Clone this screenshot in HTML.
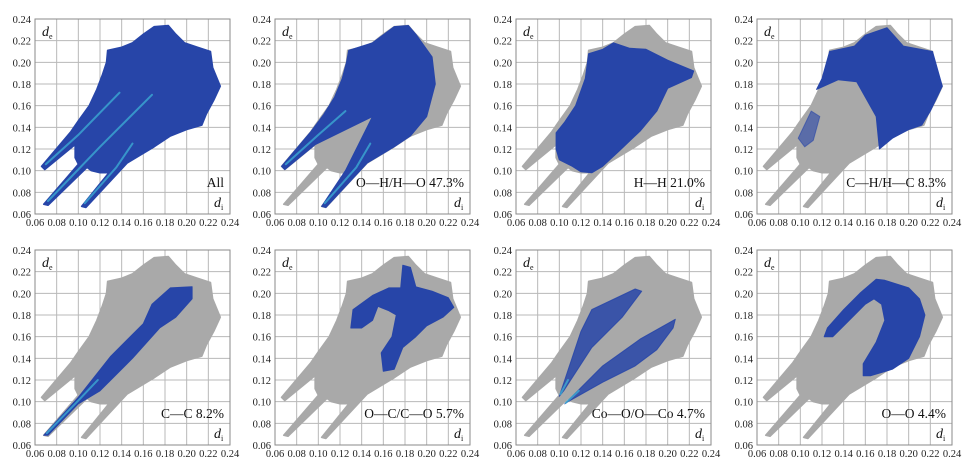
<!DOCTYPE html>
<html><head><meta charset="utf-8"><style>
body{margin:0;background:#fff;width:972px;height:476px;overflow:hidden}
svg{display:block}
text{font-family:"Liberation Serif",serif}
</style></head><body>
<svg id="fig" width="972" height="476" viewBox="0 0 972 476"></svg>
<script>
// ---- data (di, de) ----
const ticks=[0.06,0.08,0.10,0.12,0.14,0.16,0.18,0.20,0.22,0.24];
const tickLabels=["0.06","0.08","0.10","0.12","0.14","0.16","0.18","0.20","0.22","0.24"];
const panelLabels=["All","O\u2014H/H\u2014O 47.3%","H\u2014H 21.0%","C\u2014H/H\u2014C 8.3%","C\u2014C 8.2%","O\u2014C/C\u2014O 5.7%","Co\u2014O/O\u2014Co 4.7%","O\u2014O 4.4%"];
const envelope=[[0.066,0.104],[0.093,0.136],[0.100,0.146],[0.110,0.160],[0.117,0.175],[0.122,0.188],[0.126,0.200],[0.127,0.211],[0.140,0.214],[0.150,0.218],[0.160,0.226],[0.170,0.233],[0.183,0.234],[0.190,0.226],[0.198,0.218],[0.210,0.214],[0.222,0.210],[0.224,0.195],[0.231,0.178],[0.225,0.165],[0.218,0.152],[0.214,0.142],[0.200,0.138],[0.185,0.132],[0.170,0.122],[0.155,0.113],[0.145,0.107],[0.107,0.066],[0.103,0.067],[0.128,0.098],[0.120,0.098],[0.112,0.100],[0.108,0.103],[0.072,0.068],[0.068,0.069],[0.100,0.106],[0.097,0.112],[0.097,0.124],[0.069,0.101]];
const ohRegion=[[0.066,0.104],[0.093,0.136],[0.105,0.152],[0.115,0.168],[0.122,0.185],[0.126,0.200],[0.128,0.211],[0.150,0.218],[0.170,0.233],[0.183,0.234],[0.190,0.226],[0.205,0.205],[0.208,0.180],[0.200,0.150],[0.185,0.132],[0.170,0.122],[0.145,0.107],[0.107,0.066],[0.103,0.067],[0.125,0.100],[0.150,0.150],[0.097,0.124],[0.069,0.101]];
const hhRegion=[[0.097,0.135],[0.105,0.145],[0.115,0.160],[0.124,0.185],[0.127,0.208],[0.140,0.212],[0.150,0.218],[0.165,0.213],[0.180,0.212],[0.200,0.202],[0.224,0.192],[0.222,0.186],[0.200,0.176],[0.190,0.155],[0.175,0.137],[0.155,0.118],[0.140,0.104],[0.130,0.098],[0.120,0.099],[0.112,0.104],[0.100,0.110],[0.097,0.120]];
const chRegion=[[0.115,0.175],[0.120,0.185],[0.127,0.210],[0.150,0.215],[0.160,0.225],[0.180,0.232],[0.195,0.215],[0.222,0.210],[0.231,0.178],[0.220,0.155],[0.212,0.142],[0.200,0.138],[0.185,0.130],[0.173,0.120],[0.170,0.150],[0.152,0.182],[0.135,0.184]];
const chRegion2=[[0.098,0.130],[0.110,0.155],[0.118,0.150],[0.112,0.128],[0.104,0.122]];
const ccRegion=[[0.068,0.069],[0.100,0.104],[0.130,0.142],[0.160,0.172],[0.168,0.190],[0.185,0.205],[0.205,0.206],[0.205,0.195],[0.190,0.178],[0.175,0.168],[0.150,0.140],[0.120,0.110],[0.100,0.098],[0.072,0.069]];
const ocRegion=[[0.130,0.168],[0.132,0.185],[0.150,0.198],[0.165,0.205],[0.176,0.205],[0.178,0.226],[0.185,0.224],[0.190,0.206],[0.205,0.202],[0.220,0.196],[0.225,0.187],[0.215,0.178],[0.200,0.170],[0.190,0.160],[0.178,0.150],[0.170,0.130],[0.160,0.128],[0.158,0.145],[0.168,0.160],[0.172,0.180],[0.165,0.184],[0.155,0.188],[0.150,0.175],[0.140,0.168]];
const coRegionA=[[0.100,0.105],[0.120,0.165],[0.130,0.185],[0.170,0.204],[0.176,0.202],[0.158,0.178],[0.130,0.150],[0.104,0.110]];
const coRegionB=[[0.105,0.098],[0.140,0.133],[0.175,0.158],[0.207,0.176],[0.205,0.168],[0.190,0.148],[0.170,0.133],[0.140,0.118],[0.108,0.100]];
const ooRegion=[[0.122,0.160],[0.125,0.168],[0.140,0.185],[0.155,0.200],[0.170,0.213],[0.178,0.212],[0.200,0.205],[0.210,0.195],[0.215,0.180],[0.210,0.160],[0.200,0.140],[0.185,0.130],[0.165,0.124],[0.158,0.124],[0.158,0.135],[0.170,0.155],[0.178,0.175],[0.175,0.190],[0.168,0.195],[0.160,0.190],[0.150,0.180],[0.138,0.168],[0.130,0.160]];
const streaks1=[[[0.070,0.106],[0.100,0.133],[0.138,0.172]],[[0.072,0.072],[0.120,0.122],[0.168,0.170]],[[0.106,0.070],[0.135,0.103],[0.150,0.125]]];
const streaks2=[[[0.070,0.106],[0.100,0.133],[0.125,0.155]],[[0.106,0.070],[0.135,0.103],[0.148,0.125]]];
const streaks5=[[[0.071,0.071],[0.100,0.101],[0.118,0.120]]];
const streaks7=[[[0.101,0.107],[0.108,0.120]],[[0.106,0.099],[0.118,0.110]]];

const NS="http://www.w3.org/2000/svg";
const svg=document.getElementById('fig');
const cols=[35,275,516,757], rows=[19,250], W=195, H=195;
const BLUE="#2745a8", GREY="#a9a9a9", CYAN="#3fb8d8";
const FONT='"Liberation Serif", serif';
function el(t,a,p){const e=document.createElementNS(NS,t);for(const k in a)e.setAttribute(k,a[k]);(p||svg).appendChild(e);return e;}
function sx(ox,v){return ox+(v-0.06)/0.18*W;}
function sy(oy,v){return oy+H-(v-0.06)/0.18*H;}
function pts(ox,oy,arr){return arr.map(p=>sx(ox,p[0]).toFixed(1)+","+sy(oy,p[1]).toFixed(1)).join(" ");}

const regions=[
 [],[[ohRegion,BLUE,1]],[[hhRegion,BLUE,1]],[[chRegion,BLUE,1],[chRegion2,BLUE,0.6]],
 [[ccRegion,BLUE,1]],[[ocRegion,BLUE,1]],[[coRegionA,BLUE,0.85],[coRegionB,BLUE,0.85]],[[ooRegion,BLUE,1]]];
const streakSets=[streaks1,streaks2,[],[],streaks5,[],streaks7,[]];

for(let i=0;i<8;i++){
 const ox=cols[i%4], oy=rows[Math.floor(i/4)];
 const g=el('g',{});
 
 
 ticks.forEach((t,k)=>{
  const gx=el('line',{x1:sx(ox,t),x2:sx(ox,t),y1:oy,y2:oy+H,stroke:"#b8b8b8","stroke-width":1},g);
  
  
  const gy=el('line',{x1:ox,x2:ox+W,y1:sy(oy,t),y2:sy(oy,t),stroke:"#b8b8b8","stroke-width":1},g);
  
  
  const tx=el('text',{x:sx(ox,t),y:oy+H+12,"font-size":10.5,"text-anchor":"middle",fill:"#222","font-family":FONT},g);
  tx.textContent=tickLabels[k];
  
  
  const ty=el('text',{x:ox-4,y:sy(oy,t)+4,"font-size":10.5,"text-anchor":"end",fill:"#222","font-family":FONT},g);
  ty.textContent=tickLabels[k];
  
  
 });
 const env=el('polygon',{points:pts(ox,oy,envelope),fill:(i===0?BLUE:GREY),stroke:(i===0?BLUE:GREY),"stroke-width":1.5,"stroke-linejoin":"round"},g);
 
 
 regions[i].forEach(r=>{
  const p=el('polygon',{points:pts(ox,oy,r[0]),fill:r[1],"fill-opacity":r[2],stroke:r[1],"stroke-opacity":r[2],"stroke-width":1,"stroke-linejoin":"round"},g);
  
  
 });
 streakSets[i].forEach(s=>{
  const l=el('polyline',{points:pts(ox,oy,s),fill:"none",stroke:CYAN,"stroke-width":2,"stroke-opacity":0.7,"stroke-linecap":"round"},g);
  
  
 });
 const b=el('rect',{x:ox,y:oy,width:W,height:H,fill:"none",stroke:"#8a8a8a","stroke-width":1},g);
 
 
 const de=el('text',{x:ox+7,y:oy+17,"font-size":14,"font-style":"italic",fill:"#111","font-family":FONT},g);
 de.innerHTML='d<tspan font-size="8" font-style="normal" dy="3">e</tspan>';
 
 
 const di=el('text',{x:ox+W-16,y:oy+H-7,"font-size":14,"font-style":"italic",fill:"#111","font-family":FONT},g);
 di.innerHTML='d<tspan font-size="8" font-style="normal" dy="3">i</tspan>';
 
 
 const lb=el('text',{x:ox+W-6,y:oy+H-27,"font-size":13.5,"text-anchor":"end",fill:"#111","font-family":FONT},g);
 lb.textContent=panelLabels[i];
 
 
}
</script>
</body></html>
